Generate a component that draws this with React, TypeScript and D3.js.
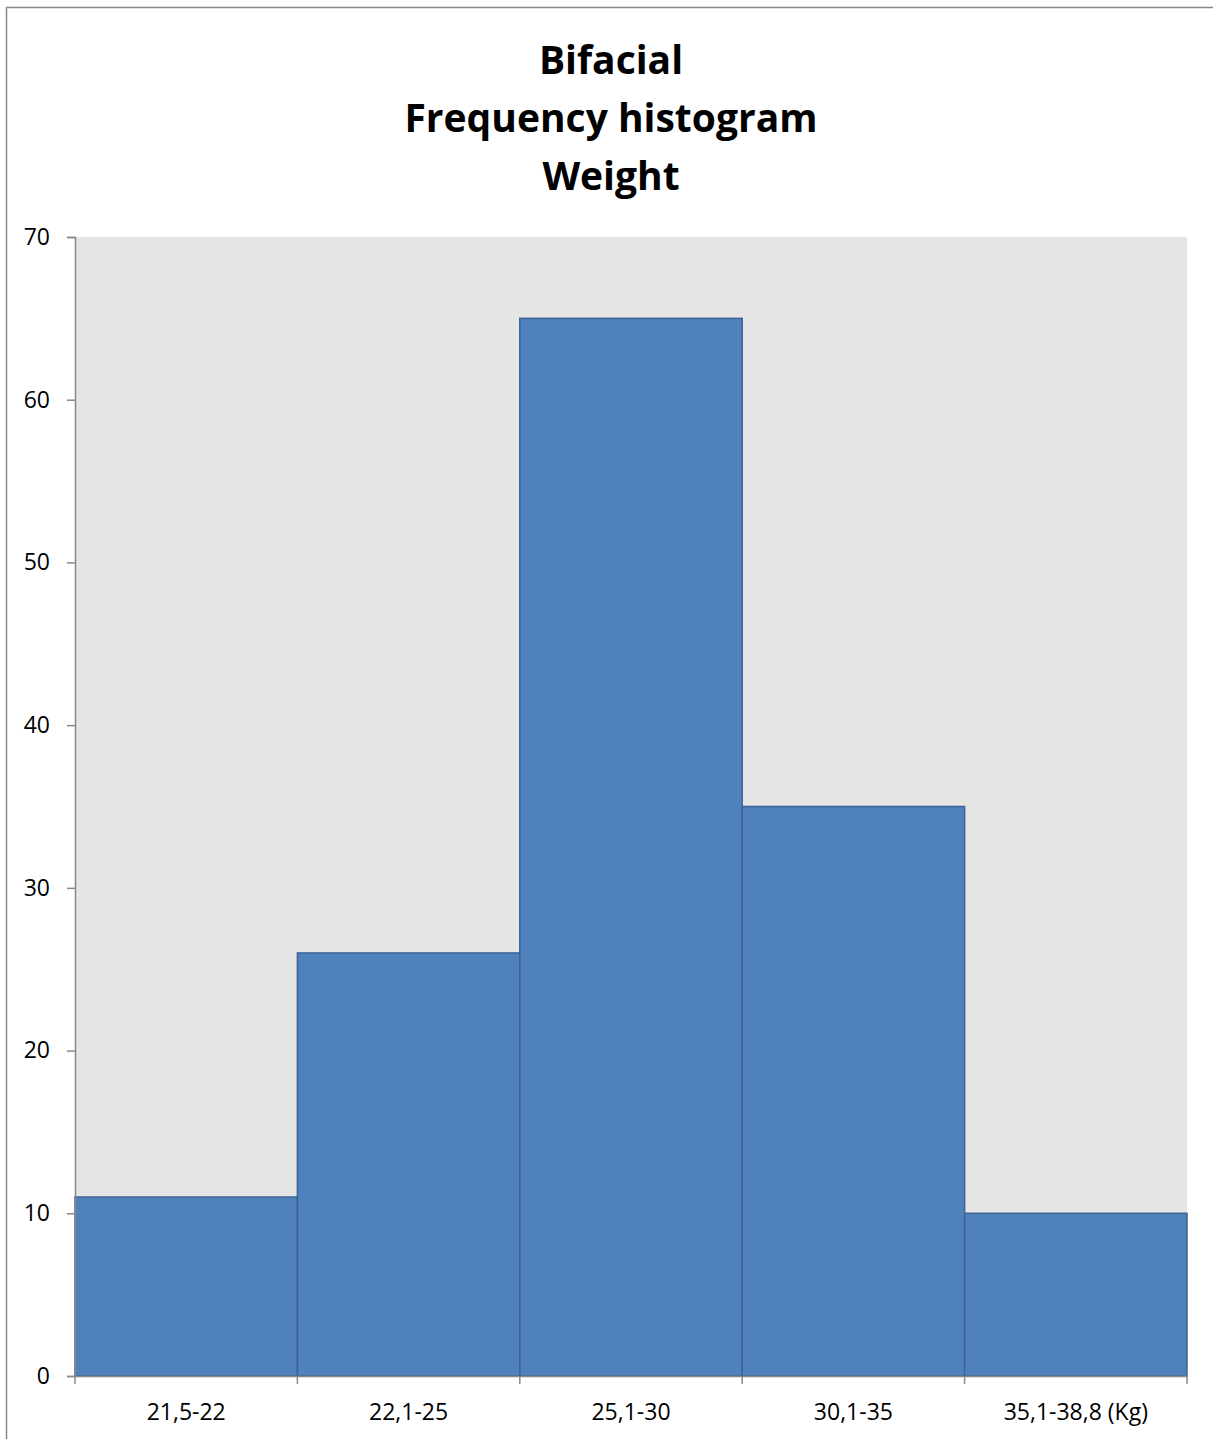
import React, { useEffect, useRef } from "react";
import * as d3 from "d3";

const categories = ["21,5-22", "22,1-25", "25,1-30", "30,1-35", "35,1-38,8 (Kg)"];
const frequencies = [11, 26, 65, 35, 10];
const yTicks = [0, 10, 20, 30, 40, 50, 60, 70];
const titleLines = ["Bifacial", "Frequency histogram", "Weight"];

const App: React.FC = () => {
  const ref = useRef<SVGSVGElement>(null);

  useEffect(() => {
    if (!ref.current) return;
    const width = 1213;
    const height = 1439;
    const plot = { left: 75, right: 1187, top: 237, bottom: 1376 };
    const font = "Open Sans, Carlito, Calibri, sans-serif";

    const svg = d3.select(ref.current);
    svg.selectAll("*").remove();

    // outer chart border (right/bottom edges fall outside the picture)
    svg
      .append("rect")
      .attr("x", 6.5)
      .attr("y", 7.5)
      .attr("width", width + 20)
      .attr("height", height + 20)
      .attr("fill", "#fff")
      .attr("stroke", "#888")
      .attr("stroke-width", 1.5);

    // title
    svg
      .append("g")
      .selectAll("text")
      .data(titleLines)
      .enter()
      .append("text")
      .attr("x", 611)
      .attr("y", (_, i) => 74 + i * 58)
      .attr("text-anchor", "middle")
      .attr("font-family", font)
      .attr("font-weight", "bold")
      .attr("font-size", 39)
      .attr("fill", "#000")
      .text((d) => d);

    const x = d3.scaleBand().domain(categories).range([plot.left, plot.right]).padding(0);
    const y = d3.scaleLinear().domain([0, 70]).range([plot.bottom, plot.top]);

    // plot area background
    svg
      .append("rect")
      .attr("x", plot.left)
      .attr("y", plot.top)
      .attr("width", plot.right - plot.left)
      .attr("height", plot.bottom - plot.top)
      .attr("fill", "#e5e5e5");

    // bars
    svg
      .append("g")
      .selectAll("rect")
      .data(frequencies)
      .enter()
      .append("rect")
      .attr("x", (_, i) => x(categories[i])!)
      .attr("y", (d) => y(d))
      .attr("width", x.bandwidth())
      .attr("height", (d) => y(0) - y(d))
      .attr("fill", "#4f81bd")
      .attr("stroke", "#3a6494")
      .attr("stroke-width", 1.5);

    // y axis
    const yAxis = svg
      .append("g")
      .attr("transform", `translate(${plot.left},0)`)
      .call(d3.axisLeft(y).tickValues(yTicks).tickSize(8).tickPadding(17));
    yAxis.attr("font-size", 23).attr("font-family", font);
    yAxis.select(".domain").attr("stroke", "#888").attr("stroke-width", 1.5);
    yAxis.selectAll(".tick line").attr("stroke", "#888").attr("stroke-width", 1.5);
    yAxis.selectAll(".tick text").attr("fill", "#000");

    // x axis
    const xAxis = svg
      .append("g")
      .attr("transform", `translate(0,${plot.bottom})`)
      .call(d3.axisBottom(x).tickSize(0).tickPadding(28));
    xAxis.attr("font-size", 23).attr("font-family", font);
    xAxis.select(".domain").attr("stroke", "#888").attr("stroke-width", 1.5);
    xAxis.selectAll(".tick text").attr("fill", "#000");

    // category boundary ticks
    const bounds = categories.map((c) => x(c)!).concat([plot.right]);
    xAxis
      .selectAll(".bound")
      .data(bounds)
      .enter()
      .append("line")
      .attr("x1", (d) => d)
      .attr("x2", (d) => d)
      .attr("y1", 0)
      .attr("y2", 8)
      .attr("stroke", "#888")
      .attr("stroke-width", 1.5);
  }, []);

  return (
    <svg
      ref={ref}
      width={1213}
      height={1439}
      style={{ position: "absolute", left: 0, top: 0, background: "#fff" }}
    />
  );
};

export default App;
